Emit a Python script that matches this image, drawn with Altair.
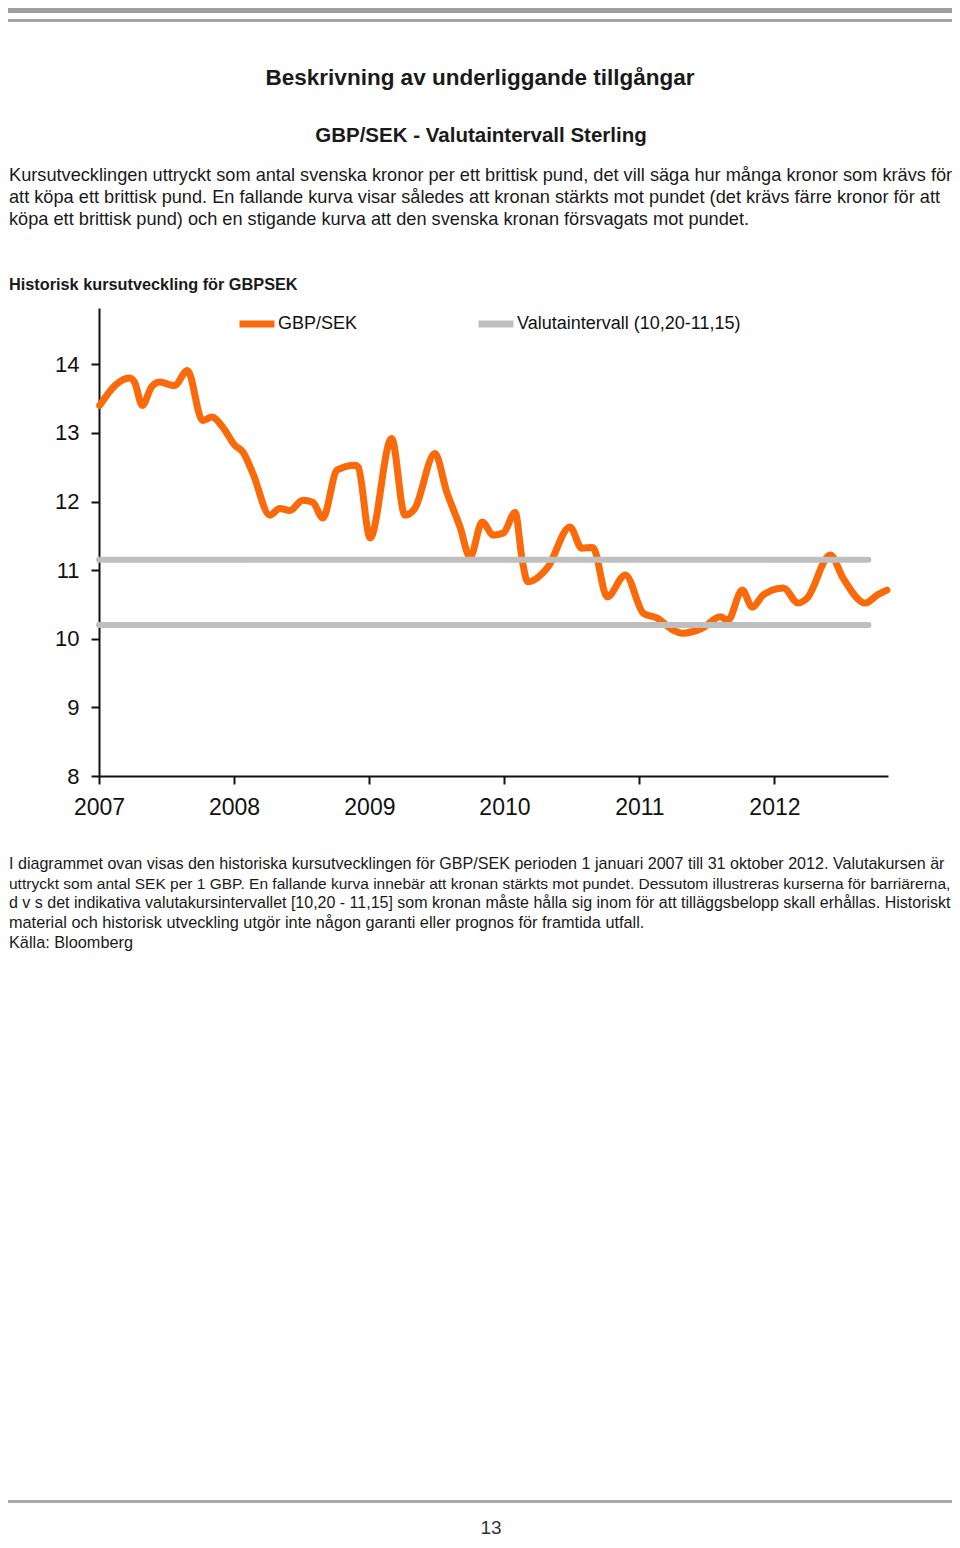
import altair as alt
import pandas as pd

# ---------------- data ----------------
dates = [
    "2007-01-03", "2007-02-13", "2007-03-24", "2007-04-07", "2007-04-28", "2007-05-23",
    "2007-06-14", "2007-07-24", "2007-08-28", "2007-10-08", "2007-11-02", "2007-12-02",
    "2008-01-03", "2008-01-25", "2008-02-21", "2008-04-07", "2008-05-04", "2008-05-31",
    "2008-07-05", "2008-08-01", "2008-08-28", "2008-10-06", "2008-11-24", "2008-12-02",
    "2009-01-03", "2009-03-02", "2009-04-07", "2009-05-04", "2009-06-27", "2009-07-29",
    "2009-09-03", "2009-09-30", "2009-11-02", "2009-12-02", "2009-12-29", "2010-01-30",
    "2010-02-18", "2010-03-05", "2010-04-28", "2010-06-27", "2010-07-29", "2010-08-28",
    "2010-10-06", "2010-11-24", "2011-01-12", "2011-02-18", "2011-04-01", "2011-04-28",
    "2011-06-22", "2011-08-07", "2011-08-28", "2011-10-06", "2011-11-02", "2011-12-02",
    "2012-01-25", "2012-03-05", "2012-03-29", "2012-05-31", "2012-07-05", "2012-09-03",
    "2012-10-06", "2012-10-31",
]
gbpsek = [
    13.40, 13.69, 13.80, 13.74, 13.40, 13.67,
    13.74, 13.69, 13.91, 13.18, 13.23, 13.08,
    12.82, 12.72, 12.41, 11.80, 11.90, 11.87,
    12.02, 11.99, 11.76, 12.46, 12.53, 12.50,
    11.47, 12.92, 11.80, 11.90, 12.70, 12.14,
    11.63, 11.19, 11.70, 11.51, 11.54, 11.84,
    11.15, 10.83, 11.04, 11.63, 11.32, 11.33,
    10.61, 10.93, 10.37, 10.30, 10.13, 10.08,
    10.16, 10.32, 10.27, 10.71, 10.46, 10.64,
    10.74, 10.52, 10.59, 11.22, 10.88, 10.52,
    10.64, 10.71,
]
band_dates = ["2007-01-01", "2012-09-11"]
band_levels = [10.20, 11.15]
series_names = ["GBP/SEK", "Valutaintervall (10,20-11,15)"]
series_colors = ["#fa6a0a", "#bfbfbf"]
years = [2007, 2008, 2009, 2010, 2011, 2012]
y_ticks = [8, 9, 10, 11, 12, 13, 14]

title_main = "Beskrivning av underliggande tillgångar"
title_sub = "GBP/SEK - Valutaintervall Sterling"
intro_lines = [
    "Kursutvecklingen uttryckt som antal svenska kronor per ett brittisk pund, det vill säga hur många kronor som krävs för",
    "att köpa ett brittisk pund. En fallande kurva visar således att kronan stärkts mot pundet (det krävs färre kronor för att",
    "köpa ett brittisk pund) och en stigande kurva att den svenska kronan försvagats mot pundet.",
]
chart_title = "Historisk kursutveckling för GBPSEK"
footer_lines = [
    "I diagrammet ovan visas den historiska kursutvecklingen för GBP/SEK perioden 1 januari 2007 till 31 oktober 2012. Valutakursen är",
    "uttryckt som antal SEK per 1 GBP. En fallande kurva innebär att kronan stärkts mot pundet. Dessutom illustreras kurserna för barriärerna,",
    "d v s det indikativa valutakursintervallet [10,20 - 11,15] som kronan måste hålla sig inom för att tilläggsbelopp skall erhållas. Historiskt",
    "material och historisk utveckling utgör inte någon garanti eller prognos för framtida utfall.",
    "Källa: Bloomberg",
]
footer_sizes = [16.1, 15.5, 16.0, 16.3, 16.3]
page_number = "13"

# ---------------- layout (page px -> plot-relative) ----------------
PX0, PY0 = 99, 308          # plot origin on the page
W, H = 789, 468             # plot area
SVG_W, SVG_H = 944, 1532
FONT = "Liberation Sans"
TXT = "#1a1a1a"
LEFT = 9


def rx(px):
    return px - PX0


def ry(py):
    return py - PY0


line_df = pd.DataFrame({"date": dates, "value": gbpsek, "series": series_names[0]})
band_rows = []
for lvl in band_levels:
    for d in band_dates:
        band_rows.append({"date": d, "value": lvl, "series": series_names[1], "level": str(lvl)})
band_df = pd.DataFrame(band_rows)

x_enc = alt.X(
    "date:T",
    scale=alt.Scale(domain=[alt.DateTime(year=2007, month=1, date=1),
                            alt.DateTime(year=2012, month=11, date=3)]),
    axis=alt.Axis(
        values=[alt.DateTime(year=y, month=1, date=1) for y in years],
        format="%Y", title=None, grid=False, labelFlush=False,
        labelFontSize=23, labelPadding=12, labelColor="#111111", labelFont=FONT,
        tickSize=8, tickWidth=2, tickColor="#111111",
        domainWidth=2, domainColor="#111111",
    ),
)
y_enc = alt.Y(
    "value:Q",
    scale=alt.Scale(domain=[8, 14.82], nice=False, zero=False),
    axis=alt.Axis(
        values=y_ticks, format="d", title=None, grid=False, labelFlush=False,
        labelFontSize=22, labelPadding=12, labelColor="#111111", labelFont=FONT,
        tickSize=8, tickWidth=2, tickColor="#111111",
        domainWidth=2, domainColor="#111111",
    ),
)
color_enc = alt.Color(
    "series:N",
    scale=alt.Scale(domain=series_names, range=series_colors),
    legend=alt.Legend(
        title=None, orient="none", legendX=rx(236), legendY=ry(303),
        direction="horizontal", symbolType="stroke", symbolStrokeWidth=7,
        symbolSize=1225, labelFontSize=18, labelFont=FONT, labelColor="#111111",
        labelOffset=0, columnPadding=106, labelLimit=400,
    ),
)

orange = alt.Chart(line_df).mark_line(
    strokeWidth=7, interpolate="monotone", strokeCap="round", strokeJoin="round"
).encode(x=x_enc, y=y_enc, color=color_enc)

band = alt.Chart(band_df).mark_line(strokeWidth=6, strokeCap="round").encode(
    x="date:T", y="value:Q", color=alt.Color("series:N"), detail="level:N"
)


def rect(x1, x2, y1, y2, color):
    return alt.Chart(pd.DataFrame({"k": [0]})).mark_rect(color=color).encode(
        x=alt.value(rx(x1)), x2=alt.value(rx(x2)), y=alt.value(ry(y1)), y2=alt.value(ry(y2))
    )


def text(px, py, s, size, weight="normal", align="left", color=TXT):
    return alt.Chart(pd.DataFrame({"t": [s]})).mark_text(
        align=align, baseline="middle", fontSize=size, fontWeight=weight, font=FONT, color=color
    ).encode(x=alt.value(rx(px)), y=alt.value(ry(py)), text="t:N")


deco = [
    rect(2, 958, 8, 13, "#9d9fa3"),
    rect(2, 958, 19, 22, "#a3a3a3"),
    rect(2, 958, 1500, 1503, "#a7a7a7"),
    text(480, 78, title_main, 22.5, "bold", "center"),
    text(481, 136, title_sub, 20.5, "bold", "center"),
    text(LEFT, 285, chart_title, 16.3, "bold"),
    text(491, 1528, page_number, 19, "normal", "center", "#333333"),
]
for i, s in enumerate(intro_lines):
    deco.append(text(LEFT, 176 + i * 22, s, 18.2))
for i, s in enumerate(footer_lines):
    deco.append(text(LEFT, 864 + i * 19.7, s, footer_sizes[i]))

chart = alt.layer(orange, band, *deco).properties(
    width=W, height=H,
    autosize=alt.AutoSizeParams(type="none"),
    padding={"left": PX0 - 8, "top": PY0 - 8, "right": SVG_W - (PX0 - 8) - W,
             "bottom": SVG_H - (PY0 - 8) - H},
).configure_view(stroke=None)

chart.save("out.html", embed_options={"renderer": "svg", "actions": False})
